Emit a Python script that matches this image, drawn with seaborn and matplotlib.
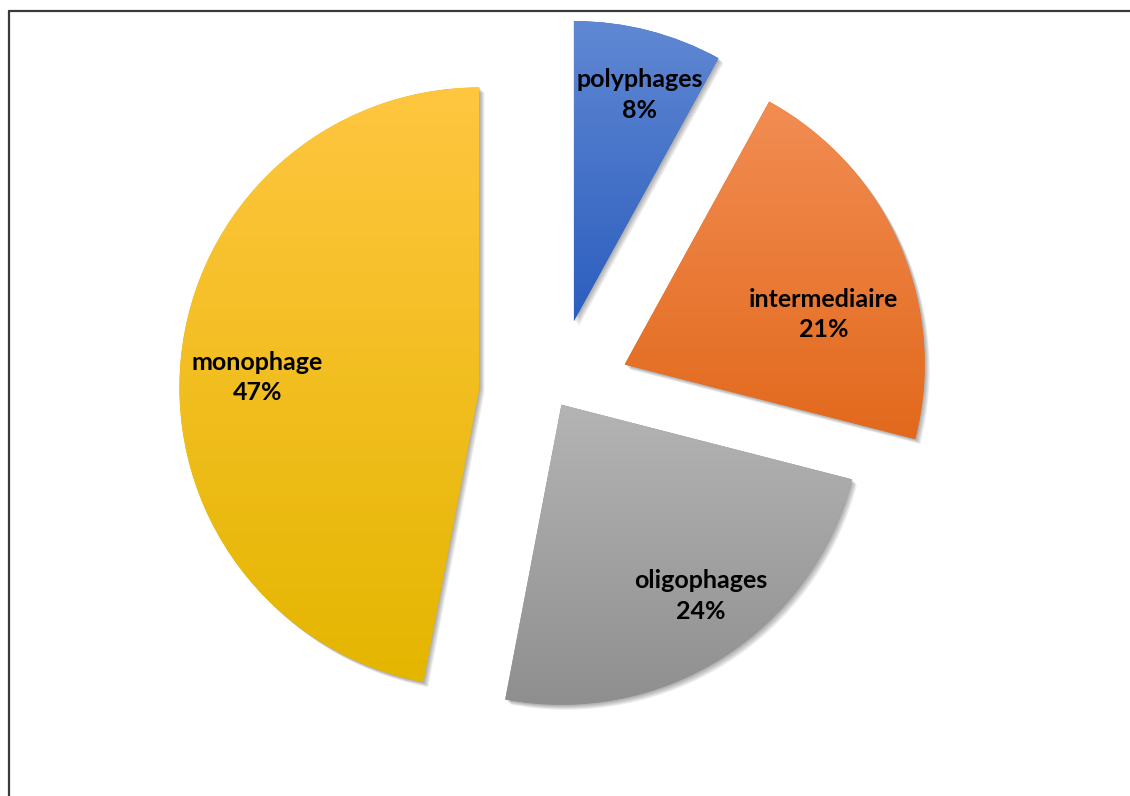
import numpy as np
import matplotlib
matplotlib.use("Agg")
import matplotlib.pyplot as plt
from matplotlib.colors import to_rgb
from matplotlib.patches import Shadow
from matplotlib.lines import Line2D
import seaborn as sns

# ---- data ----
categories = ["polyphages", "intermediaire", "oligophages", "monophage"]
shares = [8, 21, 24, 47]
top_colors = ["#6088d3", "#f28d53", "#b4b4b4", "#ffc640"]
bottom_colors = ["#2c5ebf", "#e2691c", "#8f8f8f", "#e4b600"]
explode = [0.253, 0.253, 0.04, 0.253]

sns.set_theme(style="white")
plt.rcParams["font.family"] = ["Lato", "DejaVu Sans"]

DPI = 100
fig = plt.figure(figsize=(11.3, 7.96), dpi=DPI)
fig.patch.set_facecolor("white")
ax = fig.add_axes([0, 0, 1, 1])

wedges, _ = ax.pie(shares, explode=explode, startangle=90, counterclock=False,
                   colors=bottom_colors, radius=1.0,
                   wedgeprops=dict(linewidth=0, zorder=2))

# soft drop shadows (offset in pixels -> data units; 1 data unit = 300 px)
px = 1.0 / 300.0 / (DPI / 72.0)
for w in wedges:
    for k in range(1, 6):
        sh = Shadow(w, k * px, -k * px, facecolor="black", alpha=0.07,
                    edgecolor="none", zorder=1)
        ax.add_patch(sh)

# vertical gradients clipped to each wedge
for w, ct, cb in zip(wedges, top_colors, bottom_colors):
    ext = w.get_path().get_extents()
    t = np.linspace(0, 1, 256)[:, None]
    grad = (1 - t)[..., None] * np.array(to_rgb(cb)) + t[..., None] * np.array(to_rgb(ct))
    im = ax.imshow(grad, extent=[ext.x0, ext.x1, ext.y0, ext.y1], origin="lower",
                   aspect="auto", zorder=3, interpolation="bilinear")
    im.set_clip_path(w)

# labels placed relative to each wedge's geometry
label_r = [0.785, 0.684, 0.789, 0.741]
label_shift = [1.9, 9.3, -3.8, -2.8]
for w, name, pct, r, s in zip(wedges, categories, shares, label_r, label_shift):
    mid = np.deg2rad((w.theta1 + w.theta2) / 2 - s)
    cx, cy = w.center
    ax.text(cx + r * np.cos(mid), cy + r * np.sin(mid), f"{name}\n{pct}%",
            ha="center", va="center", fontsize=18, fontweight="bold",
            color="black", linespacing=1.4, zorder=5)

ax.set_aspect("auto")
ax.set_xlim(-1.85, 1.9167)
ax.set_ylim(-1.338, 1.3153)
ax.axis("off")

# frame lines (top and left)
fx = 8.5 / 1130
fy = 1 - 10.5 / 796
fig.add_artist(Line2D([fx, 1], [fy, fy], transform=fig.transFigure, color="#3a3a3a", lw=1.6))
fig.add_artist(Line2D([fx, fx], [0, fy], transform=fig.transFigure, color="#3a3a3a", lw=1.6))

fig.savefig("out.png", dpi=DPI, facecolor="white")
